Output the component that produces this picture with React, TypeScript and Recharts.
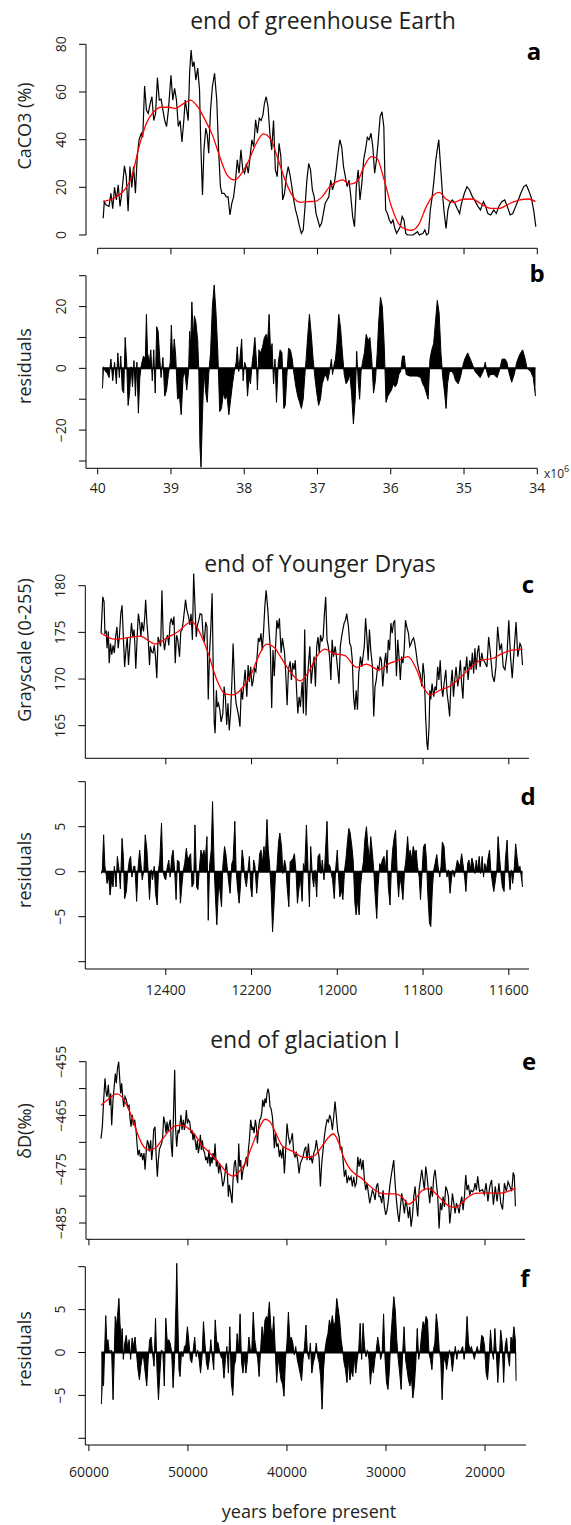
import React from "react";
import { Area, ComposedChart, Line, ReferenceLine, XAxis, YAxis } from "recharts";

const FONT = "'Open Sans', 'Noto Sans', sans-serif";
const INK = "#231f20";

type Pt = [number, number];

// ---- panel a: CaCO3 (%) vs age (Ma) ----
const caco3Raw: Pt[] = [[39.925,7],[39.91,14],[39.885,12.6],[39.845,12],[39.82,17.5],[39.795,11],[39.77,20],[39.745,14.7],[39.72,21],[39.695,12],[39.67,18],[39.635,29],[39.61,24.5],[39.585,10],[39.56,28.7],[39.535,20],[39.51,28.7],[39.485,17.5],[39.46,33],[39.435,40],[39.405,42.7],[39.385,41],[39.36,62.5],[39.335,52.4],[39.31,51],[39.285,55],[39.26,58],[39.235,48],[39.21,51],[39.185,66],[39.16,56.6],[39.135,57],[39.11,52.4],[39.085,48],[39.06,45.5],[39.035,52.4],[39.0,67],[38.975,56.6],[38.95,61.5],[38.925,56.6],[38.9,45.5],[38.875,48],[38.85,39],[38.825,48],[38.805,56.6],[38.785,52.4],[38.765,48],[38.745,68.5],[38.725,77.6],[38.705,70.6],[38.685,72.7],[38.66,65],[38.635,70],[38.61,60.8],[38.595,39.9],[38.57,16.8],[38.55,35.7],[38.525,44.8],[38.505,42],[38.485,34.3],[38.46,52.4],[38.435,62.2],[38.405,67.8],[38.375,56.6],[38.35,35.7],[38.325,20.3],[38.305,17.5],[38.275,17.5],[38.245,16],[38.22,16],[38.195,8.4],[38.17,13.3],[38.145,16],[38.12,22.4],[38.095,31.5],[38.07,25.9],[38.045,35.7],[38.02,27.3],[37.995,25.9],[37.97,30],[37.945,25.9],[37.92,32.9],[37.895,39.9],[37.87,37],[37.845,48.3],[37.82,42.7],[37.795,49],[37.77,48],[37.745,50.3],[37.725,55],[37.7,58],[37.675,53.8],[37.65,42.7],[37.625,35.7],[37.6,48],[37.575,27.3],[37.55,24.5],[37.525,38.5],[37.5,32.9],[37.475,14.7],[37.45,17.5],[37.425,24.5],[37.4,28.7],[37.375,25.2],[37.35,20.3],[37.325,14.7],[37.3,10.5],[37.275,7.7],[37.245,3.5],[37.22,0.7],[37.195,2.1],[37.17,11.9],[37.145,23],[37.12,30],[37.095,27.3],[37.07,18.9],[37.045,16],[37.02,9],[36.995,6.3],[36.97,3.5],[36.945,4.9],[36.92,9],[36.895,13.3],[36.87,14.7],[36.845,16],[36.82,23],[36.795,18.9],[36.77,21.7],[36.745,27.3],[36.72,34.3],[36.695,39.9],[36.67,37],[36.645,28.7],[36.62,24.5],[36.595,20.3],[36.57,23],[36.545,16],[36.52,7.7],[36.495,3.5],[36.47,20.3],[36.445,27.3],[36.42,14.7],[36.395,21.7],[36.37,31.5],[36.345,35.7],[36.32,41],[36.295,39.9],[36.27,42.7],[36.245,37],[36.22,25.9],[36.195,31.5],[36.17,39.9],[36.145,49.7],[36.12,51.7],[36.095,45.5],[36.07,10.5],[36.045,9],[36.02,6.3],[35.995,4.9],[35.97,6.3],[35.945,2.8],[35.92,0.7],[35.895,2.1],[35.87,3.5],[35.845,7.7],[35.82,6.3],[35.795,0.7],[35.77,0],[35.695,0],[35.635,1.4],[35.61,0],[35.56,0.7],[35.535,2.1],[35.51,0],[35.485,0.7],[35.46,10.5],[35.435,16],[35.41,23],[35.385,31.5],[35.36,37],[35.345,39.9],[35.32,28.7],[35.295,17.5],[35.27,9],[35.245,2.8],[35.22,10.5],[35.195,13.3],[35.16,14.7],[35.125,13.3],[35.095,11.2],[35.06,9],[35.035,13.3],[34.995,17.5],[34.96,20.3],[34.925,18.9],[34.885,16],[34.845,14],[34.81,12],[34.775,10.5],[34.735,14],[34.705,12],[34.675,9],[34.635,8.4],[34.595,10.5],[34.56,9],[34.525,12],[34.485,14],[34.445,14.7],[34.41,12],[34.37,8.4],[34.335,9],[34.295,12],[34.26,14.7],[34.225,17.5],[34.185,20.3],[34.15,21],[34.12,18.9],[34.085,16],[34.05,10.5],[34.02,3.5]];

const caco3Smooth: Pt[] = [[39.925,14],[39.785,15.4],[39.635,18.9],[39.535,24.5],[39.435,37.1],[39.335,46.9],[39.235,51.7],[39.135,53.6],[39.035,53.6],[38.935,53.1],[38.835,55],[38.735,56.6],[38.635,53.8],[38.535,48.3],[38.435,42],[38.335,32.9],[38.235,25.2],[38.135,23.1],[38.035,25.9],[37.935,31.5],[37.835,38.5],[37.735,42.4],[37.635,39.9],[37.535,31.5],[37.435,22.4],[37.335,16.1],[37.235,13.7],[37.135,14],[37.035,14.1],[36.935,16.1],[36.835,20.3],[36.735,22.4],[36.66,23.1],[36.56,21.3],[36.46,22.4],[36.365,28.7],[36.265,32.9],[36.19,32.2],[36.09,23.1],[35.99,11.9],[35.89,4.6],[35.79,2.4],[35.715,2],[35.615,4.6],[35.515,11.9],[35.415,16.8],[35.34,17.9],[35.24,15],[35.14,13.7],[35.015,15],[34.89,15.1],[34.765,13],[34.64,11.2],[34.515,11.2],[34.39,13],[34.24,14.7],[34.115,15.1],[34.025,14]];

// ---- panel b: residuals ----
const caco3Resid: Pt[] = [[39.935,-6.5],[39.92,0.5],[39.895,-1],[39.87,-1.5],[39.845,-3],[39.82,3],[39.795,-4],[39.77,2],[39.745,-5],[39.725,5],[39.705,-3],[39.685,4],[39.665,-7],[39.645,-8],[39.625,10],[39.605,2],[39.585,-12],[39.565,-8],[39.545,0.5],[39.525,-6],[39.505,2.5],[39.485,-9],[39.465,2],[39.445,-14.5],[39.425,-3],[39.405,1],[39.375,4],[39.35,3],[39.335,17.5],[39.32,5],[39.295,2],[39.275,6],[39.255,-4],[39.235,6],[39.215,-8],[39.195,13.5],[39.175,12],[39.155,4],[39.135,-3],[39.11,3.5],[39.085,-9],[39.06,-7],[39.035,-2],[39.01,2],[38.995,14],[38.975,2],[38.955,9.5],[38.935,4],[38.91,-10],[38.885,-9],[38.86,-15],[38.835,-3],[38.81,-1],[38.785,-7],[38.76,-1],[38.745,12],[38.73,7],[38.715,21.5],[38.695,10],[38.68,17],[38.66,15],[38.635,9],[38.62,-1],[38.605,-25],[38.59,-32],[38.57,-15],[38.55,-1],[38.525,-8],[38.505,-11],[38.485,-2],[38.46,5],[38.435,20],[38.41,27],[38.385,18],[38.36,5],[38.335,-14],[38.31,-13],[38.285,-8],[38.26,-10],[38.235,-9],[38.21,-15],[38.185,-10],[38.16,-5],[38.135,-1],[38.11,2],[38.095,7],[38.075,-1],[38.055,4],[38.035,9.5],[38.015,-4],[37.995,2],[37.975,0.5],[37.955,-9],[37.935,-3],[37.915,-5],[37.895,1],[37.875,5],[37.855,10],[37.835,3],[37.82,-7],[37.8,6],[37.775,5],[37.75,7],[37.725,10],[37.7,11],[37.68,9],[37.66,17.5],[37.64,5],[37.62,8],[37.6,-5],[37.58,3],[37.56,-11],[37.535,2],[37.51,6],[37.485,5],[37.46,-13],[37.44,-12],[37.42,-3],[37.395,6.5],[37.37,6],[37.345,3],[37.32,-2],[37.295,-6],[37.27,-9],[37.245,-11],[37.22,-13],[37.195,-10],[37.175,-3],[37.155,3],[37.135,10],[37.11,17.5],[37.085,11],[37.06,3],[37.035,-3],[37.01,-8],[36.985,-12],[36.96,-10],[36.935,-5],[36.91,-3],[36.885,-2],[36.86,-4],[36.835,-1],[36.81,3],[36.795,-2],[36.775,1],[36.755,3],[36.735,8],[36.71,17.5],[36.685,13],[36.66,5],[36.635,-2],[36.61,-5],[36.585,-4],[36.56,-2],[36.535,-8],[36.51,-18],[36.485,-10],[36.465,5.5],[36.445,-4],[36.425,-10],[36.405,-1],[36.385,2],[36.36,5],[36.335,11],[36.31,9],[36.285,10],[36.26,3],[36.235,-8],[36.21,-4],[36.185,5],[36.165,15],[36.14,23],[36.115,20],[36.09,8],[36.065,-11],[36.04,-9],[36.015,-8],[35.99,-7],[35.965,-5],[35.94,-6],[35.915,-5],[35.89,-2],[35.865,-1],[35.84,4],[35.815,4],[35.79,-2],[35.74,-2.5],[35.69,-2.5],[35.64,-2.5],[35.59,-3],[35.565,-5],[35.54,-6],[35.515,-8],[35.49,-10],[35.465,3],[35.44,6],[35.415,8],[35.39,15],[35.365,22],[35.34,18],[35.315,5],[35.29,-3],[35.265,-8],[35.245,-13],[35.225,-5],[35.2,-1],[35.165,-1],[35.14,-2],[35.115,-4],[35.08,-5],[35.05,-3],[35.015,1],[34.99,3],[34.95,5],[34.915,3],[34.88,1],[34.85,-1],[34.815,-2],[34.78,-3],[34.74,-1],[34.71,2],[34.69,-1],[34.665,-3],[34.64,-2],[34.59,-2],[34.55,-3],[34.52,-1],[34.48,3],[34.44,3],[34.415,2],[34.39,-1],[34.35,-4.5],[34.315,-2],[34.28,2],[34.24,4.5],[34.2,6],[34.165,3],[34.14,0],[34.09,-1],[34.055,-3],[34.025,-9]];

// ---- panel c: grayscale vs years BP ----
const grayRaw: Pt[] = [[12551,174.9],[12547,178.8],[12544,178.3],[12542,174.9],[12539,175.1],[12537,173.3],[12534,175.1],[12532,171.7],[12529,173.8],[12526,172.6],[12523,173.6],[12520,172.8],[12517,174.5],[12514,175.6],[12511,173.3],[12508,174.7],[12505,177.0],[12502,177.9],[12499,174.5],[12496,171.3],[12493,173.1],[12490,174.5],[12487,171.5],[12484,173.6],[12480,176.0],[12477,174.5],[12474,175.3],[12472,173.5],[12470,171.1],[12466,175.3],[12464,177.0],[12461,176.0],[12458,174.5],[12456,176.1],[12452,175.1],[12449,176.7],[12447,178.5],[12444,176.0],[12441,174.2],[12438,171.5],[12436,173.5],[12433,172.9],[12430,172.8],[12427,173.6],[12424,172.4],[12421,170.1],[12418,174.5],[12415,174.0],[12412,173.5],[12409,179.5],[12406,174.4],[12403,173.1],[12400,174.2],[12396,174.7],[12393,173.6],[12390,176.0],[12387,176.5],[12384,175.8],[12381,176.7],[12378,171.7],[12375,174.7],[12372,174.2],[12368,172.4],[12365,175.1],[12362,175.3],[12359,176.3],[12356,177.6],[12354,178.5],[12351,177.4],[12347,176.7],[12344,175.8],[12341,177.0],[12338,174.2],[12335,181.3],[12332,177.9],[12329,174.5],[12326,175.8],[12323,176.3],[12320,177.0],[12316,176.9],[12313,174.7],[12310,174.0],[12307,176.1],[12304,175.6],[12301,167.8],[12298,172.8],[12295,175.4],[12292,179.2],[12289,169.9],[12287,165.3],[12285,164.2],[12282,168.8],[12280,167.0],[12277,167.4],[12274,166.7],[12271,165.4],[12267,166.3],[12264,169.2],[12261,168.1],[12258,165.1],[12255,167.4],[12252,164.5],[12249,166.3],[12246,169.5],[12243,173.8],[12239,168.8],[12236,167.4],[12233,166.7],[12230,166.0],[12227,164.9],[12224,169.0],[12221,167.8],[12218,169.5],[12215,171.0],[12211,168.1],[12208,171.5],[12205,169.7],[12202,171.3],[12199,169.2],[12196,169.9],[12193,171.1],[12190,170.8],[12187,172.4],[12184,174.4],[12181,174.0],[12178,174.9],[12175,173.1],[12172,175.1],[12169,177.8],[12166,179.5],[12162,177.4],[12159,175.1],[12156,173.1],[12153,166.9],[12150,173.1],[12147,170.3],[12144,173.5],[12141,176.3],[12138,175.4],[12135,176.5],[12131,172.8],[12128,174.4],[12123,172.8],[12120,170.3],[12117,167.2],[12114,171.0],[12110,171.9],[12107,169.9],[12104,171.7],[12101,171.0],[12098,172.0],[12095,168.8],[12092,166.3],[12089,168.1],[12086,167.0],[12082,169.7],[12079,166.3],[12076,175.3],[12073,166.1],[12070,169.9],[12067,171.7],[12064,173.5],[12061,169.5],[12058,171.0],[12054,172.4],[12051,169.2],[12048,173.5],[12045,174.5],[12042,172.8],[12039,174.7],[12036,174.0],[12033,174.5],[12030,177.0],[12027,178.8],[12024,174.2],[12021,173.5],[12018,172.4],[12015,169.9],[12012,174.2],[12009,172.4],[12005,173.5],[12002,172.4],[11999,171.0],[11996,169.5],[11993,173.5],[11990,174.5],[11987,175.3],[11984,176.0],[11981,176.3],[11978,177.0],[11974,175.6],[11971,173.8],[11968,173.5],[11965,172.0],[11962,168.1],[11959,166.7],[11956,168.8],[11953,166.7],[11950,170.6],[11946,172.4],[11943,171.3],[11940,172.4],[11937,173.5],[11934,176.5],[11931,174.5],[11928,172.0],[11925,175.3],[11922,173.1],[11918,171.3],[11915,166.0],[11912,169.2],[11909,169.9],[11906,171.3],[11903,171.0],[11900,172.4],[11897,172.0],[11894,169.2],[11890,171.7],[11887,172.8],[11884,170.6],[11881,174.2],[11878,173.1],[11875,176.0],[11872,174.9],[11869,176.0],[11866,176.3],[11862,170.3],[11859,174.2],[11856,172.4],[11853,169.9],[11850,172.4],[11847,171.7],[11844,173.1],[11841,176.3],[11838,175.6],[11834,174.9],[11831,173.5],[11828,173.8],[11825,174.2],[11822,174.4],[11819,173.8],[11816,172.8],[11813,171.7],[11810,171.0],[11807,170.6],[11803,169.2],[11800,171.7],[11797,170.3],[11794,166.0],[11791,163.1],[11789,162.4],[11786,164.9],[11784,168.8],[11782,167.8],[11779,169.5],[11775,168.1],[11772,169.2],[11769,168.8],[11766,171.3],[11763,169.9],[11760,172.0],[11757,169.2],[11754,168.1],[11751,169.5],[11747,171.0],[11744,168.5],[11741,167.4],[11738,166.0],[11735,169.5],[11732,171.0],[11729,168.1],[11726,169.9],[11723,171.3],[11719,169.2],[11716,170.3],[11713,172.0],[11710,169.5],[11707,167.9],[11704,171.3],[11701,171.0],[11698,172.4],[11695,169.9],[11691,172.0],[11688,171.0],[11685,172.8],[11682,170.6],[11679,173.3],[11676,171.0],[11673,172.9],[11670,173.6],[11667,171.3],[11663,172.8],[11660,172.0],[11657,171.9],[11651,171.3],[11647,174.5],[11643,172.8],[11638,170.3],[11634,169.7],[11630,171.3],[11626,175.6],[11621,173.1],[11617,173.8],[11613,171.3],[11609,171.0],[11604,172.8],[11600,176.3],[11596,172.4],[11592,170.1],[11587,173.5],[11583,176.1],[11579,172.4],[11574,173.8],[11571,173.5],[11568,171.5]];

const graySmooth: Pt[] = [[12551,174.9],[12518,174.25],[12460,174.6],[12425,173.75],[12394,174.5],[12371,175.1],[12340,176.15],[12316,174.5],[12301,172.75],[12281,169.9],[12262,168.4],[12243,168.3],[12219,169.2],[12200,170.6],[12184,172.4],[12165,173.75],[12145,173.3],[12134,172.5],[12110,170.8],[12087,169.8],[12064,171],[12048,172.4],[12029,173.2],[12009,172.75],[11982,172.5],[11955,171.25],[11932,171.6],[11904,171],[11877,171.7],[11858,172],[11835,172.4],[11815,171],[11800,169.2],[11784,168.3],[11761,168.8],[11737,169.25],[11710,170.3],[11687,171.3],[11667,172],[11638,172.2],[11617,172.7],[11592,173.1],[11568,173.2]];

// ---- panel d: residuals ----
const grayResid: Pt[] = [[12550,-0.2],[12548,0.2],[12545,4.1],[12542,0.6],[12539,-0.4],[12537,-1.3],[12533,-0.6],[12530,-2.6],[12526,-0.9],[12523,-1.7],[12520,0.6],[12516,-1.7],[12513,1.7],[12509,0.2],[12506,-1.9],[12502,3.7],[12499,1.7],[12496,-3.0],[12492,-2.2],[12489,-0.2],[12485,1.3],[12482,1.7],[12479,-0.6],[12475,0.6],[12472,0.6],[12468,-3.3],[12465,0.2],[12461,2.4],[12458,0.9],[12455,-0.9],[12451,0.2],[12448,4.1],[12444,2.4],[12441,-0.2],[12438,-3.1],[12434,0.2],[12431,-0.9],[12427,0.6],[12424,-2.4],[12420,-3.7],[12417,0.2],[12414,1.3],[12410,5.4],[12407,0.2],[12403,-0.7],[12400,-0.9],[12397,0.4],[12393,1.3],[12390,-0.6],[12386,1.7],[12383,2.4],[12379,-0.2],[12376,-3.1],[12373,1.3],[12369,1.1],[12366,-3.5],[12362,-1.3],[12359,0.2],[12356,0.9],[12352,2.6],[12349,1.3],[12345,1.7],[12342,2.0],[12339,-1.7],[12335,-1.3],[12332,5.2],[12328,-1.7],[12325,-2.0],[12322,0.2],[12318,2.4],[12315,1.7],[12311,2.4],[12308,1.3],[12304,3.9],[12301,-5.4],[12298,0.6],[12294,2.4],[12291,7.8],[12287,0.2],[12284,-3.1],[12281,-5.9],[12277,-1.7],[12274,-2.0],[12270,-3.9],[12267,0.6],[12263,2.8],[12260,2.0],[12257,0.6],[12253,-1.3],[12250,-2.4],[12246,0.9],[12243,1.3],[12239,5.6],[12236,0.2],[12233,-1.7],[12229,-3.5],[12226,-1.7],[12222,2.4],[12219,1.3],[12216,-0.6],[12212,-1.7],[12209,-0.2],[12205,1.7],[12202,-1.7],[12199,-2.8],[12195,1.3],[12192,0.6],[12188,-2.4],[12185,-0.6],[12181,2.0],[12178,2.4],[12175,0.9],[12171,2.8],[12168,1.3],[12164,5.8],[12161,2.4],[12158,0.9],[12154,-2.4],[12151,-6.7],[12147,-3.1],[12144,-0.2],[12141,0.2],[12137,3.3],[12134,4.3],[12130,2.8],[12127,-0.2],[12123,1.3],[12120,0.6],[12117,-1.7],[12113,-3.9],[12110,1.1],[12106,1.3],[12103,1.5],[12100,2.0],[12096,-0.2],[12093,-3.5],[12089,-1.7],[12086,-0.6],[12082,-3.3],[12079,0.9],[12076,0.2],[12072,5.2],[12069,1.3],[12065,-3.9],[12062,2.8],[12058,-0.6],[12055,-1.7],[12052,0.2],[12048,-2.8],[12045,1.7],[12041,2.0],[12038,-0.2],[12035,1.3],[12031,-0.9],[12028,1.9],[12024,5.6],[12021,0.9],[12017,0.6],[12014,-0.2],[12011,-0.9],[12007,-3.0],[12004,0.2],[12000,2.4],[11997,-0.6],[11994,-2.8],[11990,-2.0],[11987,-3.1],[11983,0.2],[11980,1.3],[11976,3.5],[11973,4.8],[11970,4.3],[11966,2.8],[11963,1.3],[11959,-3.5],[11956,-4.8],[11953,-3.1],[11949,-4.8],[11946,-1.7],[11942,0.2],[11939,1.1],[11936,3.5],[11932,5.0],[11929,3.1],[11925,1.3],[11922,3.9],[11918,2.0],[11915,0.2],[11912,-2.4],[11908,-5.2],[11905,-1.7],[11901,0.9],[11898,0.6],[11895,1.3],[11891,1.7],[11888,0.2],[11884,2.4],[11881,-1.7],[11877,-3.7],[11874,0.2],[11871,2.4],[11867,3.9],[11864,4.6],[11860,-0.6],[11857,-2.8],[11854,-0.6],[11850,-1.7],[11847,-3.1],[11843,0.2],[11840,1.3],[11836,3.9],[11833,1.7],[11830,2.4],[11826,1.3],[11823,2.8],[11819,2.0],[11816,2.4],[11813,0.6],[11809,-0.6],[11806,-3.1],[11802,0.2],[11799,2.8],[11795,3.1],[11792,1.3],[11789,-2.4],[11785,-5.7],[11782,-6.1],[11778,-1.7],[11775,0.2],[11772,0.9],[11768,1.9],[11765,0.6],[11761,-0.6],[11758,0.6],[11755,3.3],[11751,2.8],[11748,0.6],[11744,-0.6],[11741,0.2],[11737,-2.4],[11734,-0.9],[11731,0.2],[11727,-0.6],[11724,0.2],[11720,1.3],[11717,0.9],[11714,0.6],[11710,2.0],[11707,0.9],[11703,-0.6],[11700,-2.2],[11696,0.9],[11693,1.3],[11690,0.2],[11686,1.5],[11683,0.9],[11679,-0.2],[11676,1.3],[11673,0.2],[11669,1.7],[11666,-0.2],[11662,1.7],[11659,-0.6],[11656,0.9],[11652,0.2],[11649,1.3],[11645,2.4],[11642,0.2],[11638,-1.3],[11635,-2.2],[11631,-0.9],[11628,0.2],[11625,3.9],[11621,1.3],[11618,-0.4],[11615,-1.7],[11611,-2.2],[11608,1.3],[11604,3.5],[11601,0.2],[11597,-2.0],[11594,0.2],[11591,-1.3],[11587,0.6],[11584,3.1],[11580,1.3],[11577,0.2],[11574,0.6],[11570,-0.9],[11568,-1.7]];

// ---- panel e: deltaD vs years BP ----
const ddRaw: Pt[] = [[58778,-469.3],[58643,-467.1],[58508,-462.1],[58374,-458.1],[58273,-460.6],[58172,-461.5],[58037,-459.3],[57902,-463.1],[57801,-460.9],[57700,-466.8],[57566,-462.1],[57431,-459.3],[57330,-457.2],[57229,-459.0],[57128,-456.5],[56993,-455.0],[56892,-458.1],[56791,-460.9],[56690,-459.0],[56589,-461.5],[56488,-463.4],[56353,-461.5],[56219,-462.1],[56084,-463.4],[55949,-463.1],[55848,-465.5],[55747,-467.1],[55613,-464.9],[55512,-466.8],[55377,-465.8],[55242,-467.7],[55141,-470.2],[55040,-472.4],[54906,-471.4],[54805,-472.7],[54670,-472.0],[54569,-473.3],[54434,-472.0],[54333,-475.1],[54199,-471.4],[54098,-469.6],[53997,-470.2],[53896,-471.7],[53761,-469.6],[53660,-473.3],[53559,-471.4],[53458,-467.7],[53323,-467.1],[53222,-472.0],[53088,-476.4],[52987,-473.3],[52886,-471.4],[52785,-470.8],[52650,-470.2],[52549,-468.9],[52448,-465.2],[52313,-466.5],[52212,-468.3],[52111,-466.2],[52010,-468.0],[51875,-466.5],[51774,-465.8],[51673,-470.8],[51572,-472.7],[51438,-463.4],[51337,-456.5],[51236,-467.7],[51135,-470.8],[51000,-467.7],[50899,-468.3],[50798,-466.5],[50697,-464.9],[50596,-467.7],[50461,-465.8],[50360,-467.7],[50259,-466.2],[50158,-464.0],[50057,-466.5],[49956,-465.8],[49822,-466.2],[49687,-468.3],[49586,-467.7],[49485,-469.6],[49384,-468.3],[49249,-469.9],[49148,-471.4],[49047,-469.6],[48946,-472.0],[48845,-470.8],[48744,-468.6],[48643,-471.4],[48542,-469.6],[48441,-471.4],[48307,-472.0],[48206,-473.3],[48105,-472.7],[48004,-473.9],[47869,-471.4],[47768,-474.5],[47667,-472.7],[47566,-473.9],[47465,-472.0],[47364,-473.3],[47263,-470.2],[47128,-474.5],[47027,-473.3],[46892,-475.8],[46791,-473.9],[46690,-475.1],[46589,-476.4],[46488,-478.2],[46354,-477.3],[46253,-475.8],[46118,-473.9],[46017,-475.8],[45916,-480.1],[45815,-477.9],[45681,-479.5],[45546,-481.3],[45445,-477.0],[45310,-473.9],[45209,-473.3],[45074,-476.4],[44973,-477.6],[44872,-470.2],[44771,-474.5],[44670,-473.3],[44569,-477.0],[44434,-475.1],[44333,-474.5],[44232,-473.9],[44098,-472.7],[43997,-474.5],[43896,-471.4],[43795,-469.6],[43660,-465.8],[43525,-467.7],[43424,-467.1],[43323,-468.3],[43188,-465.8],[43087,-467.1],[42986,-470.2],[42852,-467.1],[42751,-465.8],[42650,-465.5],[42549,-464.6],[42448,-462.1],[42313,-463.4],[42212,-461.8],[42111,-462.7],[42010,-460.9],[41909,-460.0],[41808,-460.9],[41707,-463.4],[41606,-463.7],[41471,-465.2],[41370,-467.7],[41269,-471.1],[41168,-468.3],[41033,-470.8],[40898,-470.2],[40764,-472.7],[40663,-471.4],[40529,-473.0],[40394,-470.8],[40259,-475.8],[40125,-471.4],[39990,-466.5],[39855,-468.9],[39721,-470.2],[39586,-469.6],[39451,-468.3],[39317,-472.0],[39182,-472.7],[39047,-472.0],[38912,-473.3],[38778,-475.8],[38643,-473.9],[38508,-473.3],[38374,-472.7],[38239,-471.4],[38104,-470.8],[37970,-473.3],[37835,-470.2],[37700,-473.3],[37566,-472.7],[37431,-473.9],[37296,-472.0],[37162,-471.4],[37027,-469.6],[36892,-471.4],[36758,-472.7],[36623,-478.2],[36488,-473.9],[36354,-471.4],[36219,-468.9],[36084,-467.1],[35950,-465.8],[35815,-466.2],[35680,-464.9],[35546,-465.8],[35411,-467.7],[35276,-465.2],[35141,-462.4],[35007,-465.2],[34872,-468.0],[34737,-468.9],[34603,-471.4],[34468,-470.8],[34333,-473.3],[34199,-476.4],[34064,-475.1],[33929,-477.6],[33795,-476.4],[33660,-477.0],[33525,-476.4],[33391,-478.2],[33256,-476.4],[33121,-478.2],[32987,-477.6],[32852,-472.7],[32717,-474.5],[32583,-473.0],[32448,-475.1],[32313,-473.3],[32178,-477.0],[32044,-478.9],[31909,-477.6],[31774,-479.5],[31640,-481.3],[31505,-480.1],[31370,-478.9],[31236,-479.5],[31101,-480.7],[30966,-478.2],[30832,-477.6],[30697,-480.1],[30562,-480.1],[30428,-481.3],[30293,-478.9],[30158,-482.0],[30024,-483.5],[29889,-482.6],[29754,-480.7],[29620,-478.2],[29485,-476.4],[29350,-474.8],[29215,-473.3],[29081,-477.6],[28946,-480.7],[28811,-483.2],[28677,-484.8],[28542,-482.0],[28407,-479.5],[28273,-481.3],[28138,-483.2],[28003,-480.7],[27869,-482.0],[27734,-484.1],[27599,-482.0],[27465,-485.7],[27330,-483.8],[27195,-480.1],[27061,-478.2],[26926,-481.3],[26791,-483.8],[26657,-478.9],[26522,-477.0],[26387,-475.1],[26252,-477.0],[26118,-478.9],[25983,-474.5],[25848,-476.4],[25714,-478.9],[25579,-481.3],[25444,-478.2],[25310,-480.1],[25175,-476.4],[25040,-475.1],[24906,-477.6],[24771,-480.1],[24636,-486.0],[24502,-481.3],[24367,-482.6],[24232,-480.1],[24098,-482.0],[23963,-478.2],[23828,-478.9],[23694,-480.1],[23559,-485.1],[23424,-482.6],[23289,-479.5],[23155,-481.3],[23020,-483.2],[22885,-481.3],[22751,-482.0],[22616,-483.2],[22481,-481.3],[22347,-480.1],[22212,-482.6],[22077,-480.1],[21943,-476.1],[21808,-478.9],[21673,-477.9],[21539,-479.8],[21404,-478.9],[21269,-479.2],[21135,-478.9],[21000,-477.6],[20865,-478.9],[20739,-476.3],[20555,-479.1],[20258,-478.8],[20075,-479.7],[19889,-477.6],[19704,-481.0],[19519,-478.2],[19334,-477.0],[19149,-481.6],[18964,-478.2],[18779,-481.0],[18595,-477.6],[18410,-481.3],[18225,-482.5],[18040,-477.6],[17855,-479.1],[17670,-477.3],[17485,-478.2],[17300,-479.1],[17153,-475.6],[17042,-476.3],[16930,-481.9]];

const ddSmooth: Pt[] = [[58778,-463.1],[58037,-462.0],[57229,-461.0],[56690,-461.5],[56185,-463.1],[55680,-465.2],[55175,-468.0],[54670,-470.2],[53997,-471.4],[53323,-471.1],[52650,-469.6],[51976,-468.0],[51303,-467.0],[50630,-466.8],[49956,-467.4],[49283,-468.6],[48609,-470.5],[47936,-471.7],[47263,-473.0],[46589,-474.5],[45916,-475.9],[45411,-476.3],[44906,-475.6],[44232,-473.9],[43559,-470.8],[42886,-467.7],[42212,-465.7],[41707,-466.2],[41202,-468.0],[40529,-470.5],[39855,-471.3],[39182,-471.9],[38508,-472.7],[37835,-472.8],[37162,-472.4],[36488,-470.8],[35815,-469.1],[35310,-468.4],[34805,-469.9],[34300,-472.7],[33795,-474.5],[33121,-475.9],[32448,-476.7],[31774,-477.9],[31101,-478.9],[30428,-479.5],[29754,-479.6],[29081,-479.6],[28407,-480.1],[27734,-481.5],[27061,-480.6],[26387,-479.0],[25714,-478.6],[25040,-479.4],[24367,-480.7],[23694,-481.8],[23020,-482.1],[22347,-481.3],[21673,-480.1],[21000,-479.5],[19815,-479.4],[18705,-479.5],[17966,-479.3],[16930,-478.5]];

// ---- panel f: residuals ----
const ddResid: Pt[] = [[58743,-6.0],[58632,-3.2],[58521,-3.9],[58410,0.3],[58299,4.3],[58189,1.1],[58078,1.5],[57967,0.3],[57856,0.1],[57708,0.3],[57560,-5.5],[57449,-0.8],[57338,4.2],[57228,3.0],[57117,4.2],[56969,6.3],[56858,3.4],[56747,1.3],[56636,2.8],[56525,-0.8],[56377,1.1],[56229,2.0],[56081,0.5],[55933,1.5],[55786,-0.8],[55638,1.7],[55490,0.7],[55342,1.8],[55194,-0.1],[55046,-2.0],[54898,-3.2],[54750,-1.6],[54603,-0.5],[54455,-0.8],[54307,-2.4],[54159,-3.9],[54011,-0.8],[53863,1.5],[53715,1.8],[53568,-0.1],[53420,-1.6],[53272,4.0],[53124,-2.0],[52976,-5.5],[52828,-2.4],[52680,0.3],[52532,0.1],[52385,-3.9],[52237,4.0],[52089,1.3],[51941,1.5],[51793,1.1],[51645,0.1],[51497,-4.1],[51349,-0.8],[51202,5.9],[51128,10.4],[51017,4.0],[50906,-2.0],[50795,-2.8],[50647,0.1],[50499,-0.5],[50351,0.7],[50203,0.9],[50055,3.0],[49908,1.3],[49760,-0.8],[49612,-1.2],[49464,0.3],[49316,1.8],[49168,-0.5],[49020,0.3],[48872,-0.8],[48725,-2.4],[48577,-0.5],[48429,3.6],[48281,1.1],[48133,-1.2],[47985,-2.0],[47837,-0.8],[47690,1.5],[47542,-0.5],[47394,-2.0],[47246,3.8],[47098,1.3],[46950,1.1],[46802,0.1],[46654,-0.5],[46507,-0.8],[46359,-3.0],[46211,-0.8],[46063,0.7],[45915,-2.4],[45767,3.0],[45619,-3.5],[45471,-5.0],[45324,-1.6],[45176,-0.8],[45028,2.2],[44880,0.3],[44732,4.5],[44584,-1.2],[44436,-2.4],[44289,-0.5],[44141,-2.4],[43993,-0.8],[43845,1.8],[43697,0.3],[43549,0.3],[43401,4.7],[43254,1.5],[43106,0.3],[42958,-0.7],[42810,-2.8],[42662,0.3],[42514,3.0],[42366,1.5],[42218,3.8],[42071,4.2],[41923,4.0],[41775,5.9],[41627,3.0],[41479,1.8],[41331,4.2],[41183,0.3],[41036,-3.5],[40888,-0.5],[40740,-2.0],[40592,-3.2],[40444,-3.7],[40296,-5.1],[40148,-0.8],[40000,1.1],[39853,4.7],[39705,1.5],[39557,1.8],[39409,1.1],[39261,-0.3],[39113,0.7],[38965,-0.8],[38817,-1.6],[38670,-2.4],[38522,-3.3],[38374,-0.8],[38226,0.7],[38078,3.2],[37930,-0.1],[37782,-0.8],[37635,1.1],[37487,-2.4],[37339,-1.2],[37191,-0.5],[37043,1.1],[36895,-0.5],[36747,-1.2],[36600,-2.8],[36452,-6.6],[36304,-2.0],[36156,0.3],[36008,1.5],[35860,2.2],[35712,3.8],[35564,3.0],[35417,4.3],[35269,3.0],[35121,3.6],[34973,6.3],[34825,5.1],[34677,3.8],[34529,1.5],[34382,0.3],[34234,-1.2],[34086,-2.0],[33938,-3.5],[33790,-0.8],[33642,-3.2],[33494,-2.0],[33346,-2.8],[33199,-0.5],[33051,-2.4],[32903,-0.8],[32755,0.3],[32607,3.4],[32459,-0.8],[32311,3.4],[32164,0.7],[32016,-0.5],[31868,0.3],[31720,-0.8],[31572,-3.7],[31424,-1.6],[31276,-2.4],[31128,-0.8],[30981,0.3],[30833,1.8],[30685,0.7],[30537,-0.8],[30389,-0.1],[30241,4.5],[30093,-0.8],[29946,-3.5],[29798,-4.3],[29650,-2.0],[29502,1.8],[29354,4.2],[29206,6.5],[29058,4.9],[28910,1.5],[28763,-0.8],[28615,-2.4],[28467,-4.3],[28319,-0.1],[28171,3.0],[28023,-0.8],[27875,-2.0],[27728,-3.2],[27580,-3.9],[27432,-2.8],[27284,-5.3],[27136,-3.9],[26988,-1.2],[26840,2.8],[26692,-0.8],[26545,0.3],[26397,2.2],[26249,3.6],[26101,3.0],[25953,4.2],[25805,3.8],[25657,-0.1],[25510,-0.8],[25362,-2.0],[25214,0.3],[25066,1.1],[24918,4.5],[24770,3.0],[24622,0.3],[24474,-0.8],[24327,-5.5],[24179,-1.2],[24031,-0.5],[23883,-2.0],[23735,-0.8],[23587,0.3],[23439,-0.5],[23292,-2.2],[23144,-0.5],[22996,0.7],[22848,-0.8],[22700,0.3],[22552,-0.1],[22404,0.3],[22256,0.7],[22109,-0.8],[21961,0.7],[21813,4.2],[21665,1.1],[21517,0.3],[21369,0.7],[21221,-0.1],[21074,-0.8],[20926,0.1],[20778,0.7],[20630,-0.1],[20482,0.3],[20334,2.0],[20186,1.8],[20038,0.7],[19891,-2.4],[19743,-3.2],[19595,-0.8],[19447,2.6],[19299,0.3],[19151,-0.8],[19003,2.8],[18855,-0.1],[18708,-3.5],[18560,-0.8],[18412,2.6],[18264,1.1],[18116,-3.5],[17968,0.7],[17820,1.7],[17673,-0.5],[17525,-1.6],[17377,1.8],[17229,1.1],[17081,3.0],[16933,1.5],[16859,-3.3]];

// tick values
const maTicks = [40, 39, 38, 37, 36, 35, 34];
const ydTicks = [12400, 12200, 12000, 11800, 11600];
const bpTicks = [60000, 50000, 40000, 30000, 20000];

type Spec = {
  id: string;
  top: number;
  L: number; R: number; T: number; B: number;
  xCal: [number, number, number, number]; // value, px, value, px
  yCal: [number, number, number, number];
  xTicks: number[]; xLabelDy: number | null;
  yTicks: number[]; yLabels: number[];
  xLine: [number | null, number | null];
  yLine: [number | null, number | null];
  raw?: Pt[]; smooth?: Pt[]; resid?: Pt[];
};

const specs: Spec[] = [
  { id: "a", top: 28, L: 86, R: 540, T: 38, B: 248.3, xCal: [40, 97.7, 34, 537.3], yCal: [80, 44.3, 0, 235],
    xTicks: maTicks, xLabelDy: null, yTicks: [0, 20, 40, 60, 80], yLabels: [0, 20, 40, 60, 80],
    xLine: [40, 34], yLine: [0, 80], raw: caco3Raw, smooth: caco3Smooth },
  { id: "b", top: 258, L: 86, R: 540, T: 270, B: 468.3, xCal: [40, 97.7, 34, 537.3], yCal: [30, 275.7, -30, 461],
    xTicks: maTicks, xLabelDy: 25, yTicks: [-30, -20, -10, 0, 10, 20, 30], yLabels: [-20, 0, 20],
    xLine: [null, 34], yLine: [null, 30], resid: caco3Resid },
  { id: "c", top: 560, L: 85.3, R: 529, T: 568, B: 758.3, xCal: [12400, 165.8, 11600, 508.8], yCal: [180, 585.7, 165, 725.7],
    xTicks: ydTicks, xLabelDy: null, yTicks: [165, 170, 175, 180], yLabels: [165, 170, 175, 180],
    xLine: [null, null], yLine: [null, 180], raw: grayRaw, smooth: graySmooth },
  { id: "d", top: 772, L: 85.3, R: 529, T: 778, B: 969, xCal: [12400, 165.8, 11600, 508.8], yCal: [10, 781.7, -10, 961.7],
    xTicks: ydTicks, xLabelDy: 26, yTicks: [-10, -5, 0, 5, 10], yLabels: [-5, 0, 5],
    xLine: [null, null], yLine: [null, 10], resid: grayResid },
  { id: "e", top: 1036, L: 86, R: 525, T: 1055, B: 1239.3, xCal: [60000, 88.9, 20000, 485], yCal: [-455, 1061.7, -485, 1223],
    xTicks: bpTicks, xLabelDy: null, yTicks: [-485, -480, -475, -470, -465, -460, -455], yLabels: [-485, -475, -465, -455],
    xLine: [null, null], yLine: [null, -455], raw: ddRaw, smooth: ddSmooth },
  { id: "f", top: 1252, L: 85.3, R: 526, T: 1260, B: 1445, xCal: [60000, 88.9, 20000, 485], yCal: [10, 1266.7, -10, 1438.3],
    xTicks: bpTicks, xLabelDy: 32, yTicks: [-10, -5, 0, 5, 10], yLabels: [-5, 0, 5],
    xLine: [null, null], yLine: [null, 10], resid: ddResid },
];

const XH = 40;
const YW = 40;

const rows = (pts: Pt[]) => pts.map(([x, y]) => ({ x, y }));
const fmt = (v: number) => (v < 0 ? "\u2212" + Math.abs(v) : String(v));
const lin = (c: [number, number, number, number]) => (px: number) =>
  c[0] + ((px - c[1]) * (c[2] - c[0])) / (c[3] - c[1]);

function Panel({ s }: { s: Spec }) {
  const xv = lin(s.xCal);
  const yv = lin(s.yCal);
  const xLeft = xv(s.L);
  const xRight = xv(s.R);
  const yTop = yv(s.T);
  const yBot = yv(s.B);
  const height = s.B + XH - s.top;
  const axisY = s.B - s.top; // x-axis position inside this chart's svg

  const xTick = (p: any) =>
    s.xLabelDy != null ? (
      <text x={p.x} y={axisY + s.xLabelDy} textAnchor="middle" fontSize={14} fill={INK} fontFamily={FONT}>
        {fmt(p.payload.value)}
      </text>
    ) : (
      <g />
    );
  const yTick = (p: any) => {
    const v = p.payload.value;
    if (!s.yLabels.includes(v)) return <g />;
    const tx = s.L - 20;
    return (
      <text x={tx} y={p.y} transform={`rotate(-90 ${tx} ${p.y})`} textAnchor="middle" fontSize={14} fill={INK} fontFamily={FONT}>
        {fmt(v)}
      </text>
    );
  };

  const xa = s.xLine[0] ?? xLeft;
  const xb = s.xLine[1] ?? xRight;
  const ya = s.yLine[0] ?? yBot;
  const yb = s.yLine[1] ?? yTop;
  const resid = s.resid;

  return (
    <div style={{ position: "absolute", left: 0, top: s.top, width: 571, height }}>
      <ComposedChart
        width={571}
        height={height}
        margin={{ top: s.T - s.top, right: 571 - s.R, bottom: 0, left: s.L - YW }}
      >
        <XAxis
          type="number"
          dataKey="x"
          domain={[Math.min(xLeft, xRight), Math.max(xLeft, xRight)]}
          reversed
          allowDataOverflow
          ticks={s.xTicks}
          interval={0}
          axisLine={false}
          stroke="#000"
          tickSize={6}
          height={XH}
          tick={xTick}
        />
        <YAxis
          type="number"
          domain={[yBot, yTop]}
          allowDataOverflow
          ticks={s.yTicks}
          interval={0}
          axisLine={false}
          stroke="#000"
          tickSize={7}
          width={YW}
          tick={yTick}
        />
        {resid && (
          <Area
            data={rows(resid)}
            dataKey="y"
            type="linear"
            baseValue={0}
            stroke="#000"
            strokeWidth={1}
            fill="#000"
            fillOpacity={1}
            dot={false}
            activeDot={false}
            isAnimationActive={false}
          />
        )}
        {resid && (
          <ReferenceLine
            segment={[{ x: resid[0][0], y: 0 }, { x: resid[resid.length - 1][0], y: 0 }]}
            stroke="#000"
            strokeWidth={2}
            ifOverflow="visible"
          />
        )}
        {s.raw && (
          <Line data={rows(s.raw)} dataKey="y" type="linear" stroke="#000" strokeWidth={1.2} dot={false} activeDot={false} isAnimationActive={false} />
        )}
        {s.smooth && (
          <Line data={rows(s.smooth)} dataKey="y" type="monotone" stroke="#ff0000" strokeWidth={1.3} dot={false} activeDot={false} isAnimationActive={false} />
        )}
        <ReferenceLine segment={[{ x: xa, y: yBot }, { x: xb, y: yBot }]} stroke="#000" strokeWidth={1} ifOverflow="visible" />
        <ReferenceLine segment={[{ x: xLeft, y: ya }, { x: xLeft, y: yb }]} stroke="#000" strokeWidth={1} ifOverflow="visible" />
      </ComposedChart>
    </div>
  );
}

const titles = [
  { text: "end of greenhouse Earth", x: 323, y: 29 },
  { text: "end of Younger Dryas", x: 320, y: 572 },
  { text: "end of glaciation I", x: 305, y: 1048 },
];
const letters = [
  { text: "a", x: 534, y: 60 },
  { text: "b", x: 537, y: 282 },
  { text: "c", x: 528, y: 593 },
  { text: "d", x: 528, y: 805 },
  { text: "e", x: 529, y: 1070 },
  { text: "f", x: 525, y: 1287 },
];
const yTitles = [
  { text: "CaCO3 (%)", y: 126 },
  { text: "residuals", y: 366 },
  { text: "Grayscale (0-255)", y: 650 },
  { text: "residuals", y: 870 },
  { text: "\u03b4D(\u2030)", y: 1131 },
  { text: "residuals", y: 1349 },
];

export default function App() {
  return (
    <div style={{ position: "absolute", left: 0, top: 0, width: 571, height: 1525, background: "#fff" }}>
      {specs.map((s) => (
        <Panel key={s.id} s={s} />
      ))}
      <svg width={571} height={1525} style={{ position: "absolute", left: 0, top: 0, pointerEvents: "none" }} fontFamily={FONT} fill={INK}>
        {titles.map((t) => (
          <text key={t.text} x={t.x} y={t.y} textAnchor="middle" fontSize={23}>
            {t.text}
          </text>
        ))}
        {letters.map((t) => (
          <text key={t.text} x={t.x} y={t.y} textAnchor="middle" fontSize={24} fontWeight={700} fill="#000">
            {t.text}
          </text>
        ))}
        {yTitles.map((t, i) => (
          <text key={i} x={31} y={t.y} transform={`rotate(-90 31 ${t.y})`} textAnchor="middle" fontSize={18}>
            {t.text}
          </text>
        ))}
        <text x={544} y={478} fontSize={12}>
          x10
          <tspan dy={-6} fontSize={9}>6</tspan>
        </text>
        <text x={309} y={1518} textAnchor="middle" fontSize={18}>
          years before present
        </text>
      </svg>
    </div>
  );
}
